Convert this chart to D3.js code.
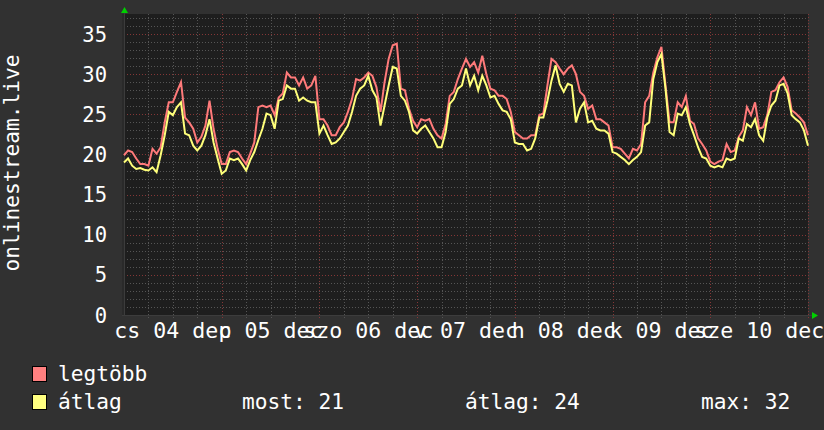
<!DOCTYPE html>
<html><head><meta charset="utf-8">
<script src="https://cdn.jsdelivr.net/npm/d3@7"></script>
<style>html,body{margin:0;padding:0;background:#323232;}svg{display:block;}</style>
</head><body>
<script>
const maxVals = [19.9,20.5,20.3,19.5,18.8,18.8,18.6,20.7,20.1,20.9,24.0,26.5,26.5,27.8,29.0,24.6,24.0,23.2,21.5,22.2,23.6,26.7,23.2,20.7,
18.8,18.8,20.3,20.5,20.3,19.5,18.8,20.1,21.5,25.9,26.1,25.9,26.1,24.9,27.1,27.6,30.2,29.6,29.6,28.6,29.6,28.2,28.6,29.8,
24.4,24.4,23.6,22.4,22.4,23.4,24.0,25.3,26.9,29.4,29.2,29.6,30.2,29.8,28.4,25.3,29.0,31.9,33.6,33.8,28.2,28.0,25.7,24.2,
23.4,24.4,24.2,24.4,23.2,22.4,22.0,23.8,27.3,27.8,29.4,30.7,31.9,30.9,31.5,30.2,32.3,30.0,28.2,28.0,27.3,27.3,26.9,25.3,
22.8,22.4,22.0,22.0,22.4,22.4,24.9,25.1,28.6,31.9,31.5,30.7,30.0,30.7,31.1,30.0,27.8,27.3,25.7,26.1,24.4,24.4,24.0,23.6,
20.9,20.9,20.7,20.1,19.5,20.7,20.5,21.3,26.5,27.3,30.2,32.1,33.4,28.6,24.0,24.0,26.5,25.9,27.3,24.2,23.8,22.0,21.3,20.5,
19.1,18.8,19.1,19.3,21.3,20.3,20.5,22.2,23.0,25.9,24.9,26.5,23.2,23.4,24.9,27.8,28.0,29.0,29.6,28.4,25.5,25.1,24.6,24.0,22.4];
const avgVals = [19.0,19.5,18.6,18.2,18.3,18.1,18.0,18.4,17.8,19.9,22.4,25.3,24.9,25.9,26.5,22.6,22.4,21.1,20.5,21.1,22.4,24.4,21.5,19.5,
17.6,18.0,19.5,19.3,19.5,18.8,18.0,19.3,20.3,21.8,23.2,25.1,24.9,23.2,26.7,26.9,28.6,28.2,28.2,26.7,27.1,26.7,26.5,26.5,
22.6,23.6,22.4,21.3,21.5,22.0,22.8,23.6,25.3,27.3,28.2,28.6,29.8,28.0,27.1,23.6,26.1,28.6,30.9,30.7,27.3,26.7,25.3,23.0,
22.6,23.2,23.6,22.8,22.0,20.9,20.9,22.8,26.3,26.9,28.2,28.6,30.7,28.6,29.8,28.0,29.8,28.6,27.1,27.3,26.3,25.5,25.3,24.4,
21.5,21.3,21.3,20.5,20.7,22.0,24.6,24.6,26.7,29.2,31.1,28.8,27.8,28.8,28.6,24.0,25.7,26.5,24.0,24.2,23.2,23.0,23.0,22.6,
20.3,20.1,19.7,19.3,18.8,19.3,19.7,20.3,23.6,24.0,29.4,31.5,32.5,28.2,22.8,22.4,25.1,24.9,25.9,23.8,22.4,20.9,19.7,19.5,
18.6,18.4,18.6,18.4,19.5,19.3,19.5,22.0,21.7,23.8,23.4,24.4,22.4,21.7,24.6,26.1,26.7,28.6,28.8,27.6,24.9,24.4,24.0,23.0,21.1];
const dayLabels = ["cs 04 dec","p 05 dec","szo 06 dec","v 07 dec","h 08 dec","k 09 dec","sze 10 dec"];
const yTicks = [0,5,10,15,20,25,30,35];
const seriesNames = ["legtöbb","átlag"];
const legendStats = ["most: 21","átlag: 24","max: 32"];
const yTitle = "onlinestream.live";

const W=824,H=430;
const start = new Date(2025,11,4,0,0,0);
const end = new Date(2025,11,11,0,0,0);
const times = maxVals.map((_,i)=>new Date(start.getTime()+i*3600*1000));

const svg = d3.select("body").append("svg").attr("width",W).attr("height",H);
svg.append("rect").attr("width",W).attr("height",H).attr("fill","#313131");

const x = d3.scaleTime().domain([start,end]).range([124,808]);
const y = d3.scaleLinear().domain([0,37.5]).range([315,14]);

svg.append("rect").attr("x",122).attr("y",14).attr("width",808-122).attr("height",316-14).attr("fill","#1e1e1e");
svg.append("rect").attr("x",122).attr("y",14).attr("width",2).attr("height",302).attr("fill","#2a2a2a");

const font = "'DejaVu Sans Mono', monospace";

// horizontal grid
const minorY = d3.range(1,38).filter(v=>v%5!==0);
svg.append("g").selectAll("line").data(minorY).join("line")
  .attr("x1",124).attr("x2",808).attr("y1",d=>Math.round(y(d))+0.5).attr("y2",d=>Math.round(y(d))+0.5)
  .attr("stroke","#555555").attr("stroke-width",1).attr("stroke-dasharray","1,2");
svg.append("g").selectAll("line").data(yTicks.filter(v=>v>0)).join("line")
  .attr("x1",124).attr("x2",808).attr("y1",d=>Math.round(y(d))+0.5).attr("y2",d=>Math.round(y(d))+0.5)
  .attr("stroke","#843636").attr("stroke-width",1).attr("stroke-dasharray","1,2");

// vertical grid
const minorX = d3.timeHour.every(6).range(start,new Date(end.getTime()+1)).filter(d=>d.getHours()!==0);
const majorX = d3.timeDay.range(new Date(start.getTime()+1),new Date(end.getTime()+1));
svg.append("g").selectAll("line").data(minorX).join("line")
  .attr("x1",d=>Math.round(x(d))+0.5).attr("x2",d=>Math.round(x(d))+0.5).attr("y1",14).attr("y2",318)
  .attr("stroke","#555555").attr("stroke-width",1).attr("stroke-dasharray","1,2");
svg.append("g").selectAll("line").data(majorX).join("line")
  .attr("x1",d=>Math.round(x(d))+0.5).attr("x2",d=>Math.round(x(d))+0.5).attr("y1",14).attr("y2",318)
  .attr("stroke","#843636").attr("stroke-width",1).attr("stroke-dasharray","1,2");

// axis lines
svg.append("line").attr("x1",122).attr("x2",812).attr("y1",315.5).attr("y2",315.5).attr("stroke","#3c3c3c");
svg.append("line").attr("x1",124.5).attr("x2",124.5).attr("y1",10).attr("y2",316).attr("stroke","#3c3c3c");

// arrows
svg.append("path").attr("d","M121,13 L128,13 L124.5,7 Z").attr("fill","#00d000");
svg.append("path").attr("d","M812,312 L812,319 L818,315.5 Z").attr("fill","#00d000");

// lines
const line = d3.line().x((d,i)=>x(times[i])).y(d=>y(d)).curve(d3.curveLinear);
svg.append("path").datum(maxVals).attr("d",line).attr("fill","none").attr("stroke","#ff7a7a").attr("stroke-width",2).attr("stroke-linejoin","miter");
svg.append("path").datum(avgVals).attr("d",line).attr("fill","none").attr("stroke","#ffff7a").attr("stroke-width",2).attr("stroke-linejoin","miter");

// y labels
svg.append("g").selectAll("text").data(yTicks).join("text")
  .attr("x",107).attr("y",d=>y(d)+7.5).attr("text-anchor","end")
  .attr("font-family",font).attr("font-size",20.5).attr("fill","#ffffff").text(d=>d);

// x labels centred at noon
svg.append("g").selectAll("text").data(dayLabels).join("text")
  .attr("x",(d,i)=>x(new Date(start.getTime()+(i*24+12)*3600*1000)))
  .attr("y",338).attr("text-anchor","middle")
  .attr("font-family",font).attr("font-size",21.6).attr("fill","#ffffff").text(d=>d);

// y title
svg.append("text").attr("transform","translate(19,163) rotate(-90)").attr("text-anchor","middle")
  .attr("font-family",font).attr("font-size",21.2).attr("fill","#ffffff").text(yTitle);

// legend
const legColors = ["#ff8080","#ffff80"];
const legY = [366,394];
seriesNames.forEach((n,i)=>{
  svg.append("rect").attr("x",32.5).attr("y",legY[i]+0.5).attr("width",14).attr("height",15)
    .attr("fill",legColors[i]).attr("stroke","#000").attr("stroke-width",1);
  svg.append("text").attr("x",58).attr("y",legY[i]+15).attr("font-family",font).attr("font-size",21.2)
    .attr("fill","#fff").text(n);
});
const statX=[242,465,701];
legendStats.forEach((s,i)=>{
  svg.append("text").attr("x",statX[i]).attr("y",legY[1]+15).attr("font-family",font).attr("font-size",21.2)
    .attr("fill","#fff").text(s);
});
</script>
</body></html>
